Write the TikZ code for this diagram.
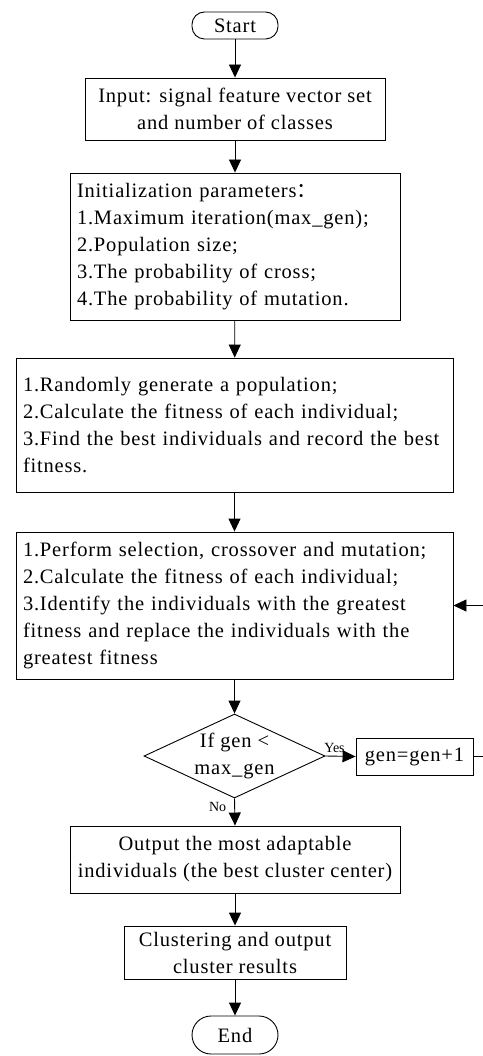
\documentclass[tikz,border=0pt]{standalone}
\usepackage{fontspec}
\setmainfont{Liberation Serif}
\newfontfamily\cjk{Noto Sans CJK SC}
\newfontfamily\bodyfont[LetterSpace=4]{Liberation Serif}
\usetikzlibrary{arrows.meta,shapes.geometric}
\tikzset{
  base/.style={draw, line width=0.9pt, inner sep=0pt, font=\bodyfont\fontsize{20.5}{27}\selectfont},
  termbox/.style={base, rectangle, rounded corners=12.5pt},
  cbox/.style={base, rectangle, align=center},
  lbox/.style={base, rectangle, align=left},
  decbox/.style={base, diamond},
  arr/.style={line width=0.9pt, -{Triangle[width=12pt,length=13pt]}},
  small/.style={font=\fontsize{14}{16}\selectfont, inner sep=0pt}
}
\begin{document}
\begin{tikzpicture}[x=1pt,y=-1pt]
\useasboundingbox[fill=white] (0,0) rectangle (482,1056);
\node[termbox, minimum width=86pt, minimum height=27pt] (start) at (235,25.5) {Start};
\node[cbox, minimum width=300pt, minimum height=62pt] (input) at (235,109) {Input: signal feature vector set\\and number of classes};
\node[lbox, minimum width=330pt, minimum height=147pt, text width=316pt] (init) at (235,246.5) {Initialization parameters{\cjk ：}\\1.Maximum iteration(max\_gen);\\2.Population size;\\3.The probability of cross;\\4.The probability of mutation.};
\node[lbox, minimum width=437pt, minimum height=134pt, text width=423pt] (gen0) at (234.5,425) {1.Randomly generate a population;\\2.Calculate the fitness of each individual;\\3.Find the best individuals and record the best\\fitness.};
\node[lbox, minimum width=437pt, minimum height=147pt, text width=423pt] (evo) at (234.5,605.5) {1.Perform selection, crossover and mutation;\\2.Calculate the fitness of each individual;\\3.Identify the individuals with the greatest\\fitness and replace the individuals with the\\greatest fitness};
\node[decbox, minimum width=181pt, minimum height=84pt,
  label={[font=\bodyfont\fontsize{20.5}{27}\selectfont, align=center, inner sep=0pt]center:If gen <\\max\_gen}] (dec) at (234.5,756) {};
\node[cbox, minimum width=117pt, minimum height=37pt] (inc) at (414.5,756.5) {gen=gen+1};
\node[cbox, minimum width=330pt, minimum height=67pt] (out) at (235,859.5) {Output the most adaptable\\individuals (the best cluster center)};
\node[cbox, minimum width=222pt, minimum height=53pt] (clu) at (235,952.5) {Clustering and output\\cluster results};
\node[termbox, minimum width=86pt, minimum height=38pt, rounded corners=19pt] (end) at (235,1035) {End};
\coordinate (loopc) at (487,756.5);
\draw[arr] (start) -- (input);
\draw[arr] (input) -- (init);
\draw[arr] (init) -- (gen0);
\draw[arr] (gen0) -- (evo);
\draw[arr] (evo) -- (dec.north);
\draw[arr] (dec.east) -- node[small, pos=0.3, above=3pt] (yes) {Yes} (inc.west);
\draw[arr] (dec.south) -- node[small, pos=0.3, left=8pt] (no) {No} (out.north);
\draw[arr] (out) -- (clu);
\draw[arr] (clu) -- (end);
\draw[arr] (inc.east) -- (loopc) |- (evo.east);
\end{tikzpicture}
\end{document}
